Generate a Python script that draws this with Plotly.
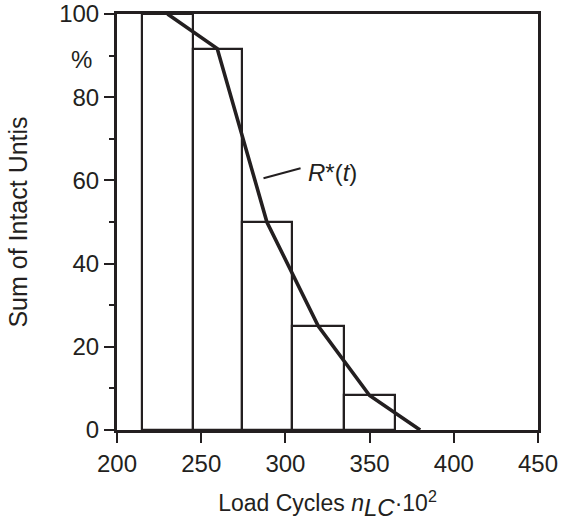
import plotly.graph_objects as go

# Data
bin_edges = [215, 245, 274, 304, 335, 365]
bar_heights = [100, 91.7, 50, 25, 8.3]
curve_x = [230, 259.5, 289, 319.5, 350, 380]
curve_y = [100, 91.7, 50, 25, 8.3, 0]
y_tick_vals = [0, 20, 40, 60, 80, 100]
x_tick_vals = [200, 250, 300, 350, 400, 450]

INK = "#231f20"
FONT = "Liberation Sans, Arial, sans-serif"
FS = 24
TFS = 24

mids = [(a + b) / 2 for a, b in zip(bin_edges[:-1], bin_edges[1:])]
widths = [b - a for a, b in zip(bin_edges[:-1], bin_edges[1:])]

fig = go.Figure()
fig.add_trace(go.Bar(
    x=mids, y=bar_heights, width=widths,
    marker=dict(color="rgba(0,0,0,0)", line=dict(color=INK, width=2.2)),
    showlegend=False, hoverinfo="skip",
))
fig.add_trace(go.Scatter(
    x=curve_x, y=curve_y, mode="lines",
    line=dict(color=INK, width=3.6),
    showlegend=False, cliponaxis=False, hoverinfo="skip",
))

fig.add_shape(type="line", x0=287, y0=60.5, x1=309, y1=62.9,
              line=dict(color=INK, width=2))
fig.add_annotation(x=312, y=62, text="<i>R</i>*(<i>t</i>)", showarrow=False,
                   xanchor="left", yanchor="middle",
                   font=dict(family=FONT, size=FS, color=INK))
fig.add_annotation(x=0, xref="paper", y=89, text="%", showarrow=False,
                   xanchor="right", yanchor="middle", xshift=-23,
                   font=dict(family=FONT, size=FS, color=INK))

xtitle = ("Load Cycles <i>n</i><sub><span style='font-size:24px'><i>LC</i></span></sub>"
          "·10<sup>2</sup>")

fig.update_layout(
    width=566, height=522,
    margin=dict(l=117, r=28, t=14, b=92, autoexpand=False),
    plot_bgcolor="white", paper_bgcolor="white",
    bargap=0,
    font=dict(family=FONT, size=FS, color=INK),
    xaxis=dict(
        range=[200, 450], tickvals=x_tick_vals, ticks="outside", ticklen=10,
        tickwidth=2, tickcolor=INK, showline=True, linecolor=INK, linewidth=3,
        mirror=True, showgrid=False, zeroline=False, automargin=False,
        tickfont=dict(size=TFS), ticklabeloverflow="allow",
        title=dict(text=xtitle, font=dict(size=23), standoff=20),
    ),
    yaxis=dict(
        range=[0, 100], tickvals=y_tick_vals, ticks="outside", ticklen=10,
        tickwidth=2, tickcolor=INK, showline=True, linecolor=INK, linewidth=3,
        mirror=True, showgrid=False, zeroline=False, automargin=False,
        tickfont=dict(size=TFS), ticklabeloverflow="allow",
        minor=dict(tickvals=[10, 30, 50, 70, 90], ticks="outside", ticklen=5,
                   tickwidth=2, tickcolor=INK, showgrid=False),
        title=dict(text="Sum of Intact Untis", font=dict(size=25), standoff=25),
    ),
)

fig.write_html("out.html", config={"displayModeBar": False},
               post_script="document.body.style.margin='0';")
